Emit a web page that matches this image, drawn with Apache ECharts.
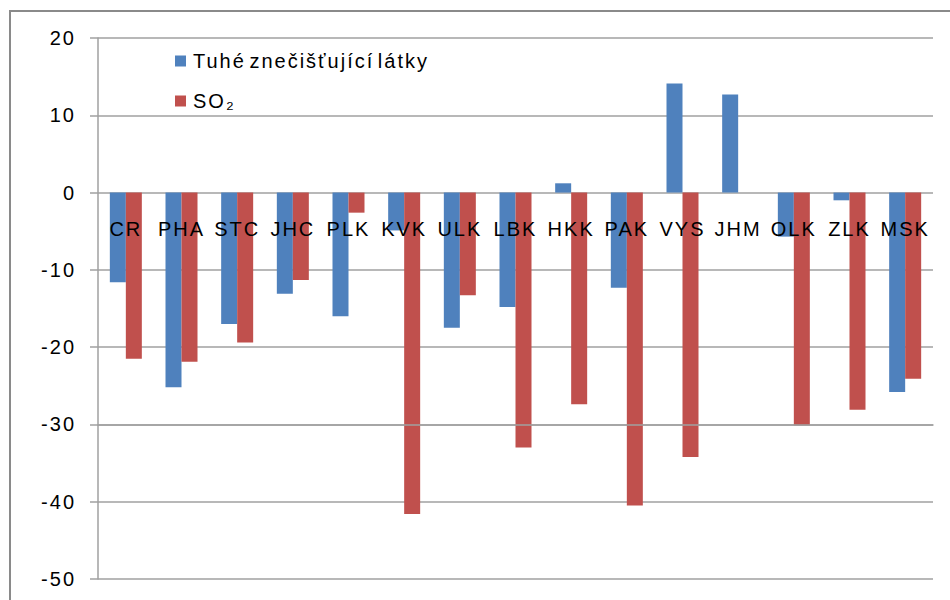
<!DOCTYPE html>
<html>
<head>
<meta charset="utf-8">
<script src="https://cdn.jsdelivr.net/npm/echarts@6/dist/echarts.min.js"></script>
<style>
  html, body { margin: 0; padding: 0; background: #fff; }
  #chart { width: 950px; height: 600px; }
  #chart svg text { letter-spacing: 2px; word-spacing: -4px; }
</style>
</head>
<body>
<div id="chart"></div>
<script>
// Regions of the Czech Republic
const categories = ['CR', 'PHA', 'STC', 'JHC', 'PLK', 'KVK', 'ULK', 'LBK', 'HKK', 'PAK', 'VYS', 'JHM', 'OLK', 'ZLK', 'MSK'];
// Change in emissions (%)
const tuheValues = [-11.6, -25.2, -17.0, -13.1, -16.0, -4.9, -17.5, -14.8, 1.2, -12.3, 14.1, 12.7, -5.7, -1.0, -25.8];
const so2Values = [-21.5, -21.9, -19.4, -11.3, -2.6, -41.6, -13.3, -33.0, -27.4, -40.5, -34.2, null, -30.1, -28.1, -24.1];
const seriesNames = ['Tuhé znečišťující látky', 'SO₂'];
const yTicks = { min: -50, max: 20, step: 10 };

const FONT = '"Liberation Sans", Arial, sans-serif';
const GRID_COLOR = '#a0a0a0';

const chart = echarts.init(document.getElementById('chart'), null, { renderer: 'svg' });

chart.setOption({
  animation: false,
  backgroundColor: '#fff',
  textStyle: { fontFamily: FONT, color: '#000' },
  graphic: [{
    type: 'rect',
    shape: { x: 10, y: 11, width: 1000, height: 700 },
    style: { fill: 'none', stroke: '#8a8a8a', lineWidth: 2 },
    silent: true,
    z: -10
  }],
  grid: { left: 98, right: 17, top: 38, bottom: 21, containLabel: false, outerBoundsMode: 'none' },
  legend: {
    orient: 'vertical',
    left: 175,
    top: 51,
    padding: 0,
    itemWidth: 11,
    itemHeight: 11,
    itemGap: 20,
    icon: 'rect',
    textStyle: { fontFamily: FONT, fontSize: 20, lineHeight: 20, color: '#000', padding: [0, 0, 0, 2] },
    data: seriesNames
  },
  xAxis: {
    type: 'category',
    data: categories,
    z: 5,
    axisLine: { show: true, onZero: true, lineStyle: { color: GRID_COLOR, width: 1.5 } },
    axisTick: { inside: true, length: 5, lineStyle: { color: GRID_COLOR, width: 1.5 } },
    axisLabel: { interval: 0, margin: 26, fontSize: 20, fontFamily: FONT, color: '#000' },
    splitLine: { show: false }
  },
  yAxis: {
    type: 'value',
    min: yTicks.min,
    max: yTicks.max,
    interval: yTicks.step,
    axisLine: { show: true, lineStyle: { color: GRID_COLOR, width: 1.5 } },
    axisTick: { show: true, length: 8, lineStyle: { color: GRID_COLOR, width: 1.5 } },
    axisLabel: { margin: 22, fontSize: 20, fontFamily: FONT, color: '#000' },
    splitLine: { show: true, lineStyle: { color: GRID_COLOR, width: 1.5 } }
  },
  series: [
    {
      name: seriesNames[0],
      type: 'bar',
      data: tuheValues,
      barWidth: 16,
      barGap: '0%',
      itemStyle: { color: '#4F81BD' }
    },
    {
      name: seriesNames[1],
      type: 'bar',
      data: so2Values,
      barWidth: 16,
      barGap: '0%',
      itemStyle: { color: '#C0504D' }
    }
  ]
});

// Put the category axis on the zero line of the value axis
const zeroY = chart.convertToPixel({ yAxisIndex: 0 }, 0);
const baseY = chart.convertToPixel({ yAxisIndex: 0 }, yTicks.min);
chart.setOption({ xAxis: { offset: zeroY - baseY } });
</script>
</body>
</html>
